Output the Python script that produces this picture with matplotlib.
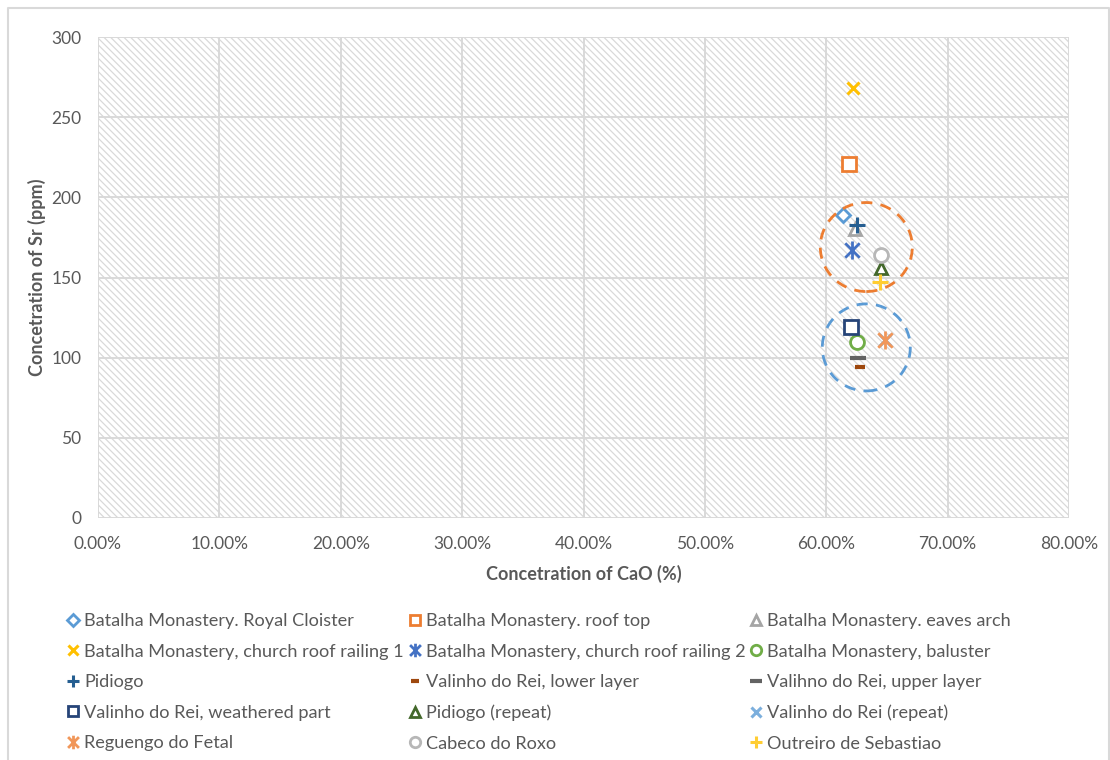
import matplotlib
matplotlib.use("Agg")
import matplotlib.pyplot as plt
from matplotlib.lines import Line2D
from matplotlib.patches import Ellipse, Rectangle
from matplotlib.path import Path
from matplotlib.ticker import PercentFormatter, MultipleLocator

plt.rcParams['font.family'] = ['Lato', 'DejaVu Sans']
plt.rcParams['hatch.linewidth'] = 0.9
plt.rcParams['hatch.color'] = '#d9d9d9'

# --- data (CaO fraction, Sr ppm) ---
labels = [
    "Batalha Monastery. Royal Cloister",
    "Batalha Monastery. roof top",
    "Batalha Monastery. eaves arch",
    "Batalha Monastery, church roof railing 1",
    "Batalha Monastery, church roof railing 2",
    "Batalha Monastery, baluster",
    "Pidiogo",
    "Valinho do Rei, lower layer",
    "Valihno do Rei, upper layer",
    "Valinho do Rei, weathered part",
    "Pidiogo (repeat)",
    "Valinho do Rei (repeat)",
    "Reguengo do Fetal",
    "Cabeco do Roxo",
    "Outreiro de Sebastiao",
]
cao = [0.614, 0.619, 0.624, 0.622, 0.621, 0.625, 0.625, 0.628, 0.626, 0.620,
       0.645, 0.648, 0.648, 0.645, 0.644]
sr = [189, 221, 180, 268, 167, 110, 183, 94, 100, 119, 156, 111, 111, 164, 147]

colors = ['#5B9BD5', '#ED7D31', '#A5A5A5', '#FFC000', '#4472C4', '#70AD47',
          '#255E91', '#9E480E', '#636363', '#264478', '#43682B', '#7CAFDD',
          '#F1975A', '#B7B7B7', '#FFCD33']

star = Path([(-1, -1), (1, 1), (-1, 1), (1, -1), (0, -1.25), (0, 1.25)],
            [Path.MOVETO, Path.LINETO, Path.MOVETO, Path.LINETO, Path.MOVETO, Path.LINETO])

# marker, size, edge width, open?
styles = [
    ('D', 7.5, 2.0, True),
    ('s', 10, 2.0, True),
    ('^', 9, 2.0, True),
    ('x', 9, 2.2, False),
    (star, 13, 2.0, False),
    ('o', 10, 2.0, True),
    ('+', 11, 2.2, False),
    ('_', 7, 3.0, False),
    ('_', 11, 3.0, False),
    ('s', 10, 2.0, True),
    ('^', 9, 2.0, True),
    ('x', 9, 2.2, False),
    (star, 13, 2.0, False),
    ('o', 10, 2.0, True),
    ('+', 11, 2.2, False),
]

W, H = 1110, 760
fig = plt.figure(figsize=(W / 100, H / 100), dpi=100)
ax = fig.add_axes([98 / W, 1 - 518 / H, (1069 - 98) / W, (518 - 37) / H])

ax.add_patch(Rectangle((0, 0), 1, 1, transform=ax.transAxes, facecolor='white',
                       edgecolor='#d9d9d9', hatch='\\' * 5, linewidth=0, zorder=0))

handles = []
for i, lab in enumerate(labels):
    m, ms, mew, hollow = styles[i]
    h, = ax.plot(cao[i], sr[i], linestyle='none', marker=m, markersize=ms,
                 markeredgewidth=mew, markeredgecolor=colors[i],
                 markerfacecolor='white' if hollow else colors[i],
                 label=lab, zorder=3)
    handles.append(h)

# highlight circles
ax.add_patch(Ellipse((0.633, 169), 0.0758, 55.5, fill=False, edgecolor='#ED7D31',
                     linewidth=2, linestyle=(0, (4, 3)), zorder=4))
ax.add_patch(Ellipse((0.633, 106.4), 0.0725, 54.3, fill=False, edgecolor='#5B9BD5',
                     linewidth=2, linestyle=(0, (4, 3)), zorder=4))

ax.set_xlim(0, 0.8)
ax.set_ylim(0, 300)
ax.xaxis.set_major_locator(MultipleLocator(0.1))
ax.yaxis.set_major_locator(MultipleLocator(50))
ax.xaxis.set_major_formatter(PercentFormatter(xmax=1, decimals=2))
ax.grid(True, color='#d9d9d9', linewidth=1.4, zorder=1)
ax.set_axisbelow(True)
for s in ax.spines.values():
    s.set_visible(False)
ax.tick_params(length=0, labelsize=12.5, labelcolor='#595959')
ax.tick_params(axis='x', pad=13)
ax.tick_params(axis='y', pad=12)

ax.set_xlabel("Concetration of CaO (%)", fontsize=13, fontweight='bold',
              color='#595959', labelpad=9)
ax.set_ylabel("Concetration of Sr (ppm)", fontsize=13, fontweight='bold',
              color='#595959', labelpad=4)

# legend, row-wise order in 3 columns
order = [0, 3, 6, 9, 12, 1, 4, 7, 10, 13, 2, 5, 8, 11, 14]
leg = fig.legend([handles[k] for k in order], [labels[k] for k in order],
                 ncol=3, loc='upper left', bbox_to_anchor=(68 / W, 1 - 613 / H),
                 frameon=False, fontsize=13.1, markerscale=0.75, handlelength=0.6,
                 handletextpad=0.3, columnspacing=0.3, labelspacing=0.8,
                 borderpad=0, borderaxespad=0)
for t in leg.get_texts():
    t.set_color('#595959')

# outer chart frame
fx = [7.5 / W, 7.5 / W, 1108.5 / W, 1108.5 / W]
fy = [0, 1 - 7.5 / H, 1 - 7.5 / H, 0]
fig.add_artist(Line2D(fx, fy, transform=fig.transFigure, color='#d9d9d9', linewidth=1.5))

fig.savefig("out.png", dpi=100)
